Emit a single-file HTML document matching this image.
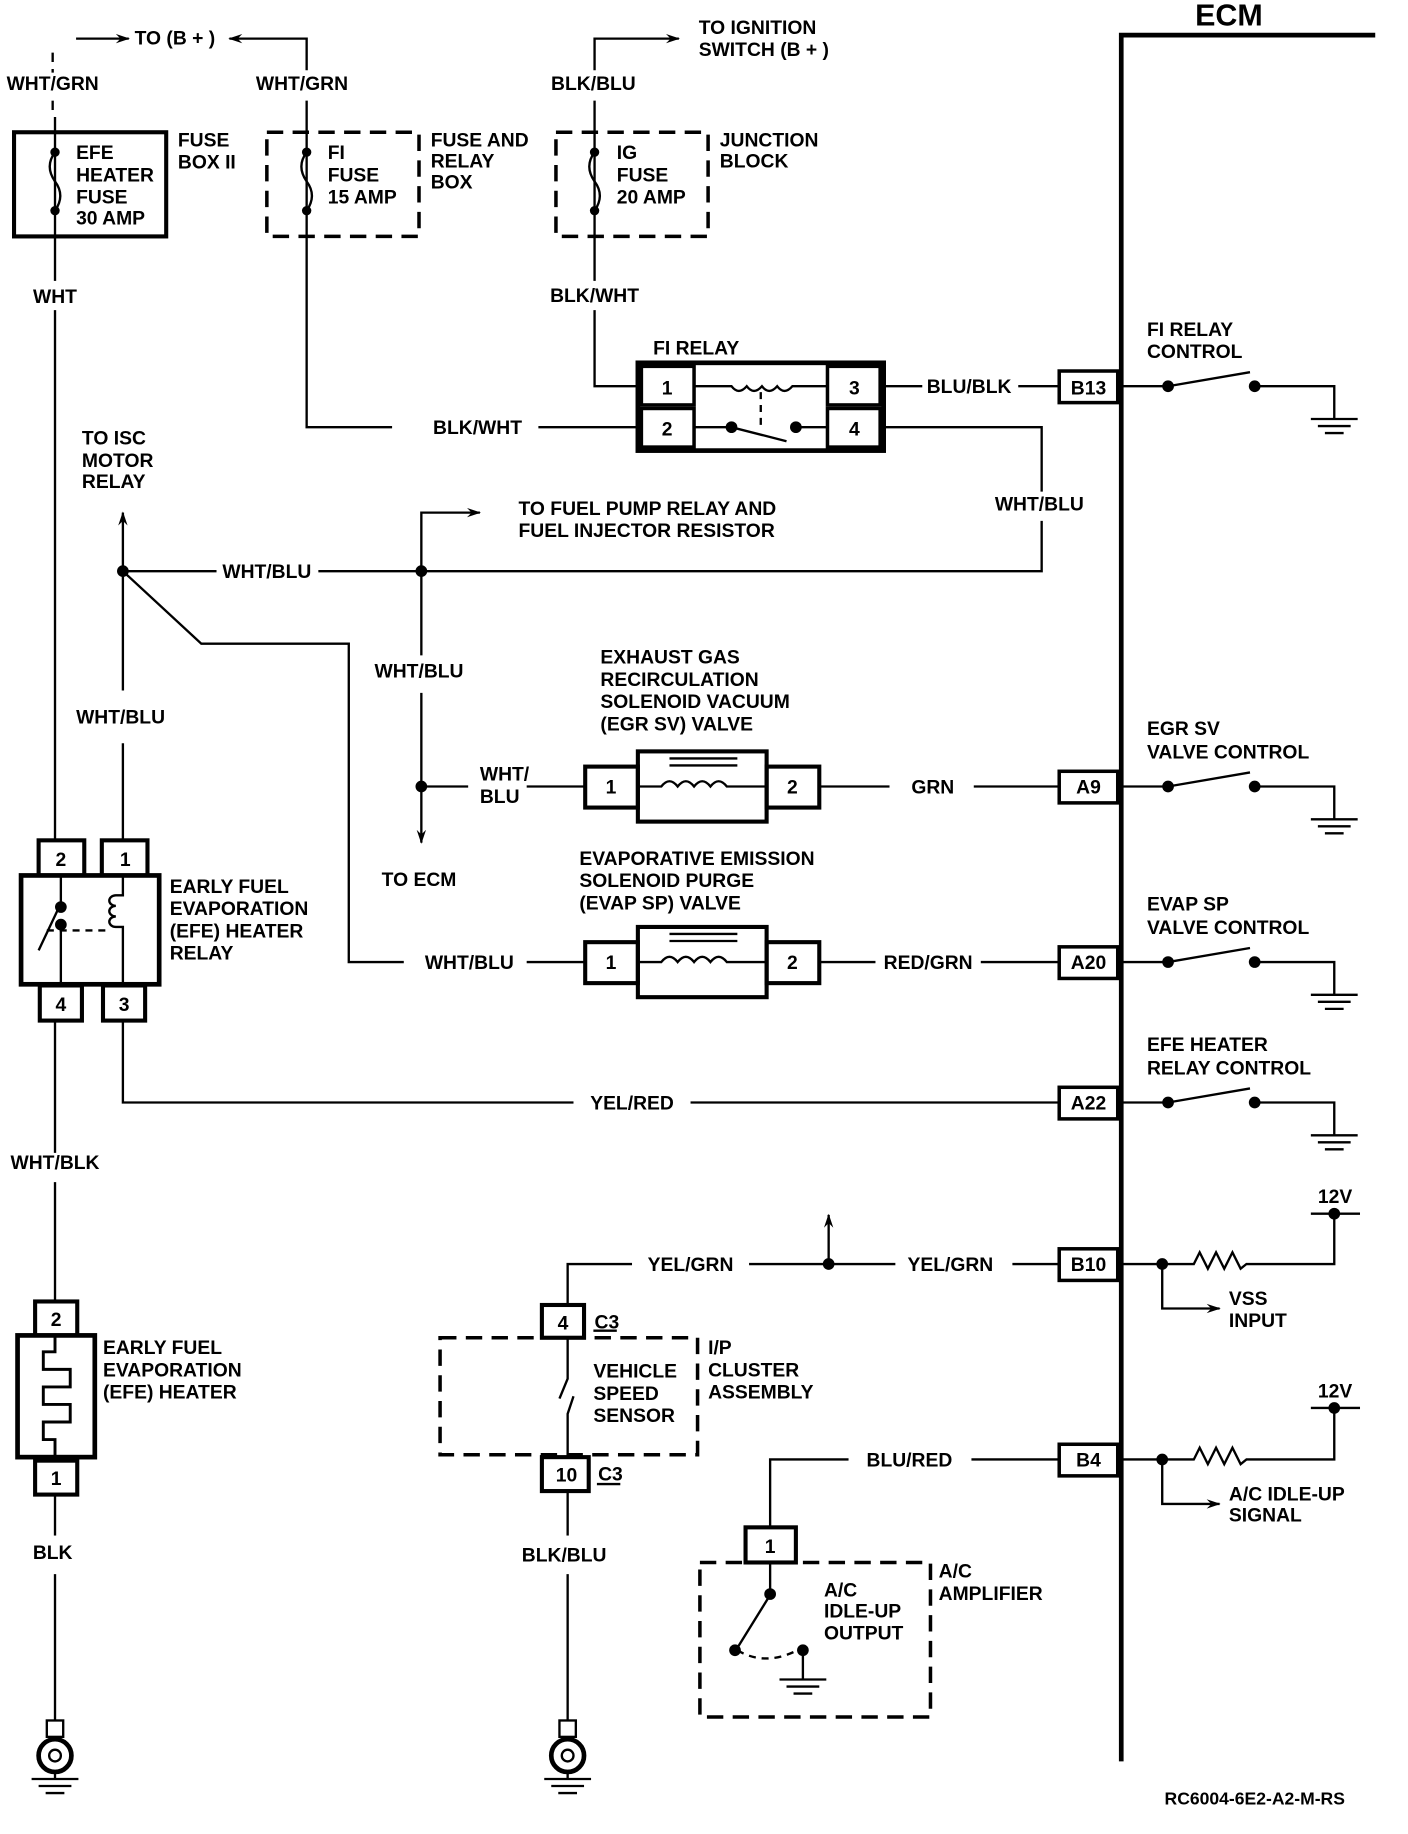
<!DOCTYPE html>
<html><head><meta charset="utf-8"><style>
html,body{margin:0;padding:0;background:#fff}
svg{display:block}
text{font-family:"Liberation Sans",sans-serif;font-weight:bold;font-size:16.5px;fill:#000}
.c{text-anchor:middle}
</style></head><body>
<svg width="1408" height="1834" viewBox="0 0 1203 1567" preserveAspectRatio="none" xmlns="http://www.w3.org/2000/svg">
<defs>
<marker id="ar" markerWidth="12" markerHeight="10" refX="11" refY="5" orient="auto" markerUnits="userSpaceOnUse"><path d="M0,1 L12,5 L0,9 L4,5 Z" fill="#000"/></marker>
</defs>
<g stroke="#000" fill="none" stroke-width="2">
<path d="M958,1505 V30 H1175" stroke-width="4"/>
<path d="M45,45 V62" stroke-dasharray="8,6"/>
<path d="M45,86 V100" stroke-dasharray="8,6"/>
<path d="M65,33 H110" marker-end="url(#ar)"/>
<path d="M262,60 V33 H196" marker-end="url(#ar)"/>
<rect x="12" y="113" width="130" height="89" stroke-width="3.5"/>
<path d="M47,100 V202"/>
<rect x="228" y="113" width="130" height="89" stroke-width="3" stroke-dasharray="14,8"/>
<path d="M262,86 V365 H335"/>
<path d="M460,365 H545"/>
<rect x="475" y="113" width="130" height="89" stroke-width="3" stroke-dasharray="14,8"/>
<path d="M508,60 V33 H580" marker-end="url(#ar)"/>
<path d="M508,86 V240"/>
<path d="M508,265 V330 H545"/>
<path d="M47,130 q-9,12 0,25 q9,12 0,25"/>
<path d="M262,130 q-9,12 0,25 q9,12 0,25"/>
<path d="M508,130 q-9,12 0,25 q9,12 0,25"/>
<rect x="545" y="310" width="210" height="75" stroke-width="4"/>
<rect x="548" y="313" width="45" height="33" stroke-width="3"/>
<rect x="548" y="349" width="45" height="33" stroke-width="3"/>
<rect x="707" y="313" width="45" height="33" stroke-width="3"/>
<rect x="707" y="349" width="45" height="33" stroke-width="3"/>
<path d="M593,330 H625 q6,8 13,0 q6,8 13,0 q6,8 13,0 q6,8 13,0 H707"/>
<path d="M650,335 V365" stroke-dasharray="6,5"/>
<path d="M593,365 H625 L672,377"/>
<path d="M682,365 H707"/>
<path d="M755,330 H788"/>
<path d="M870,330 H905"/>
<rect x="905" y="317" width="50" height="27" stroke-width="3"/>
<path d="M752,365 H890 V420"/>
<path d="M890,445 V488 H272"/>
<path d="M185,488 H105"/>
<path d="M105,488 V438" marker-end="url(#ar)"/>
<path d="M360,488 V438 H410" marker-end="url(#ar)"/>
<path d="M105,488 V590"/>
<path d="M105,635 V718"/>
<path d="M105,488 L172,550 H298 V822 H345"/>
<path d="M450,822 H500"/>
<path d="M360,488 V560"/>
<path d="M360,592 V720" marker-end="url(#ar)"/>
<path d="M360,672 H400"/>
<path d="M450,672 H500"/>
<rect x="500" y="655" width="45" height="35" stroke-width="3.5"/>
<rect x="545" y="642" width="110" height="60" stroke-width="3.5"/>
<rect x="655" y="655" width="45" height="35" stroke-width="3.5"/>
<path d="M545,672 H565 q7,-9 14,0 q7,-9 14,0 q7,-9 14,0 q7,-9 14,0 H655"/>
<path d="M572,648 H630 M572,654 H630"/>
<path d="M700,672 H760"/><path d="M832,672 H905"/>
<rect x="905" y="659" width="50" height="27" stroke-width="3"/>
<rect x="500" y="805" width="45" height="35" stroke-width="3.5"/>
<rect x="545" y="792" width="110" height="60" stroke-width="3.5"/>
<rect x="655" y="805" width="45" height="35" stroke-width="3.5"/>
<path d="M545,822 H565 q7,-9 14,0 q7,-9 14,0 q7,-9 14,0 q7,-9 14,0 H655"/>
<path d="M572,798 H630 M572,804 H630"/>
<path d="M700,822 H748"/><path d="M838,822 H905"/>
<rect x="905" y="809" width="50" height="27" stroke-width="3"/>
<path d="M47,202 V240"/><path d="M47,265 V718"/>
<rect x="33" y="718" width="39" height="30" stroke-width="3.5"/>
<rect x="87" y="718" width="39" height="30" stroke-width="3.5"/>
<rect x="18" y="748" width="118" height="93" stroke-width="4"/>
<rect x="34" y="842" width="36" height="30" stroke-width="3.5"/>
<rect x="88" y="842" width="36" height="30" stroke-width="3.5"/>
<path d="M52,748 V772 M52,790 V842 M50,776 L33,812"/>
<path d="M40,795 H90" stroke-dasharray="6,5"/>
<path d="M105,748 V765 h-6 a5,4 0 0 0 0,9 a5,4 0 0 0 0,9 a5,4 0 0 0 0,9 h6 V842"/>
<path d="M105,872 V942 H490"/><path d="M590,942 H905"/>
<rect x="905" y="929" width="50" height="27" stroke-width="3"/>
<path d="M47,872 V985"/><path d="M47,1010 V1112"/>
<rect x="30" y="1112" width="36" height="29" stroke-width="3.5"/>
<rect x="15" y="1141" width="66" height="104" stroke-width="4"/>
<rect x="30" y="1248" width="36" height="29" stroke-width="3.5"/>
<path d="M47,1141 V1155 H37 V1170 H60 V1185 H37 V1200 H60 V1215 H37 V1230 H47 V1245" stroke-width="2.5"/>
<path d="M47,1277 V1312"/><path d="M47,1345 V1470"/>
<path d="M485,1273 V1312"/><path d="M485,1345 V1470"/>
<g>
<rect x="40" y="1470" width="14" height="14"/>
<circle cx="47" cy="1500" r="14" stroke-width="4"/><circle cx="47" cy="1500" r="5"/>
<path d="M47,1514 V1520 M27,1520 H67 M33,1526 H61 M39,1532 H55"/>
<rect x="478" y="1470" width="14" height="14"/>
<circle cx="485" cy="1500" r="14" stroke-width="4"/><circle cx="485" cy="1500" r="5"/>
<path d="M485,1514 V1520 M465,1520 H505 M471,1526 H499 M477,1532 H493"/>
</g>
<path d="M485,1115 V1080 H540"/><path d="M640,1080 H765"/><path d="M865,1080 H905"/>
<path d="M708,1080 V1038" marker-end="url(#ar)"/>
<rect x="905" y="1067" width="50" height="27" stroke-width="3"/>
<rect x="463" y="1115" width="36" height="28" stroke-width="3.5"/>
<path d="M507,1137 H527"/>
<rect x="376" y="1143" width="220" height="100" stroke-width="3" stroke-dasharray="14,8"/>
<path d="M485,1143 V1178 L478,1195 M490,1193 L485,1208 V1245"/>
<rect x="463" y="1245" width="40" height="29" stroke-width="3.5"/>
<path d="M510,1268 H530"/>
<path d="M658,1305 V1247 H725"/><path d="M830,1247 H905"/>
<rect x="905" y="1234" width="50" height="27" stroke-width="3"/>
<rect x="637" y="1305" width="43" height="30" stroke-width="3.5"/>
<rect x="598" y="1335" width="197" height="132" stroke-width="3" stroke-dasharray="14,8"/>
<path d="M658,1335 V1362 M656,1366 L630,1408"/>
<path d="M630,1410 q25,15 55,-2" stroke-dasharray="6,5"/>
<path d="M686,1410 V1435 M666,1435 H706 M672,1441 H700 M678,1447 H694"/>
<path d="M955,330 H998 L1068,318 M1072,330 H1140 V358 M1120,358 H1160 M1126,364 H1154 M1132,370 H1148"/>
<path d="M955,672 H998 L1068,660 M1072,672 H1140 V700 M1120,700 H1160 M1126,706 H1154 M1132,712 H1148"/>
<path d="M955,822 H998 L1068,810 M1072,822 H1140 V850 M1120,850 H1160 M1126,856 H1154 M1132,862 H1148"/>
<path d="M955,942 H998 L1068,930 M1072,942 H1140 V970 M1120,970 H1160 M1126,976 H1154 M1132,982 H1148"/>
<path d="M955,1080 H1020 l5,-10 l7,14 l7,-14 l7,14 l7,-14 l7,14 l5,-4 H1140 V1037 M1120,1037 H1162"/>
<path d="M993,1080 V1118 H1042" marker-end="url(#ar)"/>
<path d="M955,1247 H1020 l5,-10 l7,14 l7,-14 l7,14 l7,-14 l7,14 l5,-4 H1140 V1203 M1120,1203 H1162"/>
<path d="M993,1247 V1285 H1042" marker-end="url(#ar)"/>
</g>
<g fill="#000">
<circle cx="47" cy="130" r="4"/><circle cx="47" cy="180" r="4"/>
<circle cx="262" cy="130" r="4"/><circle cx="262" cy="180" r="4"/>
<circle cx="508" cy="130" r="4"/><circle cx="508" cy="180" r="4"/>
<circle cx="625" cy="365" r="5"/><circle cx="680" cy="365" r="5"/>
<circle cx="105" cy="488" r="5"/><circle cx="360" cy="488" r="5"/><circle cx="360" cy="672" r="5"/>
<circle cx="52" cy="775" r="5"/><circle cx="52" cy="790" r="5"/>
<circle cx="708" cy="1080" r="5"/>
<circle cx="658" cy="1362" r="5"/><circle cx="628" cy="1410" r="5"/><circle cx="686" cy="1410" r="5"/>
<circle cx="998" cy="330" r="5"/><circle cx="1072" cy="330" r="5"/>
<circle cx="998" cy="672" r="5"/><circle cx="1072" cy="672" r="5"/>
<circle cx="998" cy="822" r="5"/><circle cx="1072" cy="822" r="5"/>
<circle cx="998" cy="942" r="5"/><circle cx="1072" cy="942" r="5"/>
<circle cx="993" cy="1080" r="5"/><circle cx="1140" cy="1037" r="5"/>
<circle cx="993" cy="1247" r="5"/><circle cx="1140" cy="1203" r="5"/>
</g>
<text x="1050" y="22" class="c" style="font-size:26px">ECM</text>
<text x="115" y="38">TO (B + )</text>
<text x="45" y="77" class="c">WHT/GRN</text>
<text x="258" y="77" class="c">WHT/GRN</text>
<text x="507" y="77" class="c">BLK/BLU</text>
<text x="597" y="29">TO IGNITION</text><text x="597" y="48">SWITCH (B + )</text>
<text x="65" y="136">EFE</text><text x="65" y="155">HEATER</text><text x="65" y="174">FUSE</text><text x="65" y="192">30 AMP</text>
<text x="152" y="125">FUSE</text><text x="152" y="144">BOX II</text>
<text x="280" y="136">FI</text><text x="280" y="155">FUSE</text><text x="280" y="174">15 AMP</text>
<text x="368" y="125">FUSE AND</text><text x="368" y="143">RELAY</text><text x="368" y="161">BOX</text>
<text x="527" y="136">IG</text><text x="527" y="155">FUSE</text><text x="527" y="174">20 AMP</text>
<text x="615" y="125">JUNCTION</text><text x="615" y="143">BLOCK</text>
<text x="47" y="259" class="c">WHT</text>
<text x="508" y="258" class="c">BLK/WHT</text>
<text x="558" y="303">FI RELAY</text>
<text x="570" y="337" class="c">1</text><text x="570" y="372" class="c">2</text>
<text x="730" y="337" class="c">3</text><text x="730" y="372" class="c">4</text>
<text x="828" y="336" class="c">BLU/BLK</text>
<text x="930" y="337" class="c">B13</text>
<text x="408" y="371" class="c">BLK/WHT</text>
<text x="980" y="287">FI RELAY</text><text x="980" y="306">CONTROL</text>
<text x="70" y="380">TO ISC</text><text x="70" y="399">MOTOR</text><text x="70" y="417">RELAY</text>
<text x="888" y="436" class="c">WHT/BLU</text>
<text x="443" y="440">TO FUEL PUMP RELAY AND</text><text x="443" y="459">FUEL INJECTOR RESISTOR</text>
<text x="228" y="494" class="c">WHT/BLU</text>
<text x="358" y="579" class="c">WHT/BLU</text>
<text x="103" y="618" class="c">WHT/BLU</text>
<text x="513" y="567">EXHAUST GAS</text><text x="513" y="586">RECIRCULATION</text><text x="513" y="605">SOLENOID VACUUM</text><text x="513" y="624">(EGR SV) VALVE</text>
<text x="410" y="667">WHT/</text><text x="410" y="686">BLU</text>
<text x="522" y="678" class="c">1</text><text x="677" y="678" class="c">2</text>
<text x="797" y="678" class="c">GRN</text>
<text x="930" y="678" class="c">A9</text>
<text x="980" y="628">EGR SV</text><text x="980" y="648">VALVE CONTROL</text>
<text x="358" y="757" class="c">TO ECM</text>
<text x="495" y="739">EVAPORATIVE EMISSION</text><text x="495" y="758">SOLENOID PURGE</text><text x="495" y="777">(EVAP SP) VALVE</text>
<text x="980" y="778">EVAP SP</text><text x="980" y="798">VALVE CONTROL</text>
<text x="401" y="828" class="c">WHT/BLU</text>
<text x="522" y="828" class="c">1</text><text x="677" y="828" class="c">2</text>
<text x="793" y="828" class="c">RED/GRN</text>
<text x="930" y="828" class="c">A20</text>
<text x="52" y="740" class="c">2</text><text x="107" y="740" class="c">1</text>
<text x="52" y="864" class="c">4</text><text x="106" y="864" class="c">3</text>
<text x="145" y="763">EARLY FUEL</text><text x="145" y="782">EVAPORATION</text><text x="145" y="801">(EFE) HEATER</text><text x="145" y="820">RELAY</text>
<text x="980" y="898">EFE HEATER</text><text x="980" y="918">RELAY CONTROL</text>
<text x="540" y="948" class="c">YEL/RED</text>
<text x="930" y="948" class="c">A22</text>
<text x="47" y="999" class="c">WHT/BLK</text>
<text x="48" y="1133" class="c">2</text><text x="48" y="1269" class="c">1</text>
<text x="88" y="1157">EARLY FUEL</text><text x="88" y="1176">EVAPORATION</text><text x="88" y="1195">(EFE) HEATER</text>
<text x="45" y="1332" class="c">BLK</text>
<text x="1126" y="1028">12V</text>
<text x="590" y="1086" class="c">YEL/GRN</text>
<text x="812" y="1086" class="c">YEL/GRN</text>
<text x="930" y="1086" class="c">B10</text>
<text x="1050" y="1115">VSS</text><text x="1050" y="1134">INPUT</text>
<text x="481" y="1136" class="c">4</text><text x="508" y="1135">C3</text>
<text x="507" y="1177">VEHICLE</text><text x="507" y="1196">SPEED</text><text x="507" y="1215">SENSOR</text>
<text x="605" y="1157">I/P</text><text x="605" y="1176">CLUSTER</text><text x="605" y="1195">ASSEMBLY</text>
<text x="484" y="1266" class="c">10</text><text x="511" y="1265">C3</text>
<text x="1126" y="1194">12V</text>
<text x="777" y="1253" class="c">BLU/RED</text>
<text x="930" y="1253" class="c">B4</text>
<text x="1050" y="1282">A/C IDLE-UP</text><text x="1050" y="1300">SIGNAL</text>
<text x="482" y="1334" class="c">BLK/BLU</text>
<text x="658" y="1327" class="c">1</text>
<text x="802" y="1348">A/C</text><text x="802" y="1367">AMPLIFIER</text>
<text x="704" y="1364">A/C</text><text x="704" y="1382">IDLE-UP</text><text x="704" y="1401">OUTPUT</text>
<text x="995" y="1542" style="font-size:15px">RC6004-6E2-A2-M-RS</text>
</svg>
</body></html>
